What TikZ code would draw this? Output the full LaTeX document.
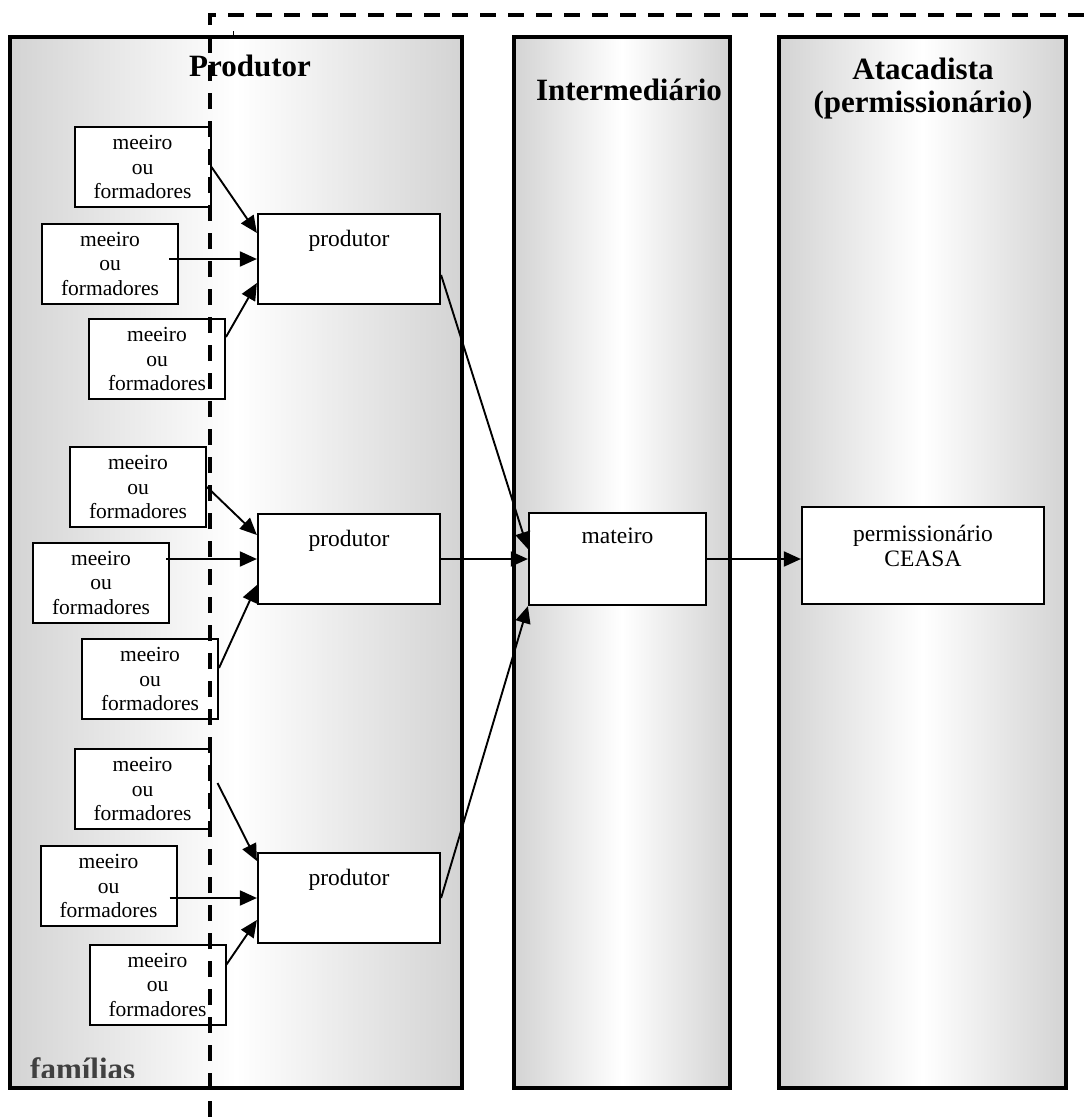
\documentclass[tikz,border=0pt]{standalone}
\usepackage{fontspec}
\setmainfont{Liberation Serif}
\usetikzlibrary{arrows.meta}
\definecolor{colgray}{gray}{0.74}
\definecolor{famgray}{gray}{0.25}
\pgfdeclarehorizontalshading{colband}{100bp}{color(0bp)=(colgray); color(12bp)=(colgray); color(50bp)=(white); color(88bp)=(colgray); color(100bp)=(colgray)}

\begin{document}
\begin{tikzpicture}[x=1pt,y=-1pt,
  column/.style={draw=black,line width=4pt,shading=colband},
  small/.style={draw,fill=white,line width=2pt,minimum width=136pt,minimum height=80pt,
    inner sep=0pt,align=center,font=\fontsize{21.5}{24.5}\selectfont},
  bigbox/.style={draw,fill=white,line width=2.2pt,inner sep=0pt},
  boxtext/.style={inner sep=0pt,align=center,font=\fontsize{23.5}{25}\selectfont},
  head/.style={inner sep=0pt,align=center,font=\fontsize{31}{33}\selectfont\bfseries},
  flow/.style={line width=1.9pt,-{Triangle[length=17pt,width=15pt]}},
  boundary/.style={line width=4pt,dash pattern=on 16pt off 12pt}]

\useasboundingbox (0,0) rectangle (1087,1117);

% the three stages of the chain
\path[column] (10,37) rectangle (462,1088);
\path[column] (514,37) rectangle (730,1088);
\path[column] (779,37) rectangle (1066,1088);

\node[head,anchor=base] (hProd) at (250,76) {Produtor};
\node[head,anchor=base] (hInt) at (629,100) {Intermediário};
\node[head,anchor=north] (hAtac) at (923,58) {Atacadista\\(permissionário)};

\begin{scope}
  \clip (10,37) rectangle (462,1077);
  \node[head,anchor=base west,text=famgray] (fam) at (30,1079) {famílias};
\end{scope}

% producers
\node[bigbox,minimum width=182pt,minimum height=90pt] (P1) at (349,259) {};
\node[bigbox,minimum width=182pt,minimum height=90pt] (P2) at (349,559) {};
\node[bigbox,minimum width=182pt,minimum height=90pt] (P3) at (349,898) {};
\node[boxtext,anchor=base] (P1t) at ([yshift=-34pt]P1.north) {produtor};
\node[boxtext,anchor=base] (P2t) at ([yshift=-34pt]P2.north) {produtor};
\node[boxtext,anchor=base] (P3t) at ([yshift=-34pt]P3.north) {produtor};

% intermediary and wholesaler
\node[bigbox,minimum width=177pt,minimum height=92pt] (M) at (617.5,559) {};
\node[boxtext,anchor=base] (Mt) at ([yshift=-32pt]M.north) {mateiro};
\node[bigbox,minimum width=242pt,minimum height=97pt] (W) at (923,555.5) {};
\node[boxtext,anchor=north] (Wt) at ([yshift=-19pt]W.north) {permissionário\\CEASA};

% sharecroppers / labour of each producer
\node[small] (A1) at (142.5,167) {meeiro\\ou\\formadores};
\node[small] (A2) at (110,263.5) {meeiro\\ou\\formadores};
\node[small] (A3) at (157,359) {meeiro\\ou\\formadores};
\node[small] (B1) at (138,487) {meeiro\\ou\\formadores};
\node[small] (B2) at (101,582.5) {meeiro\\ou\\formadores};
\node[small] (B3) at (150,679) {meeiro\\ou\\formadores};
\node[small] (C1) at (142.5,789) {meeiro\\ou\\formadores};
\node[small] (C2) at (108.5,886) {meeiro\\ou\\formadores};
\node[small] (C3) at (157.5,984.5) {meeiro\\ou\\formadores};

% flows into the producers
\draw[flow] (A1.east) -- ([yshift=26pt]P1.west);
\draw[flow] ([xshift=-10pt]A2.east |- P1.west) -- (P1.west);
\draw[flow] ([yshift=22pt]A3.east) -- ([yshift=-24pt]P1.west);

\draw[flow] (B1.east) -- ([yshift=24pt]P2.west);
\draw[flow] ([xshift=-4pt]B2.east |- P2.west) -- (P2.west);
\draw[flow] ([yshift=11pt]B3.east) -- ([yshift=-26pt]P2.west);

\draw[flow] ([xshift=6pt,yshift=6pt]C1.east) -- ([yshift=37pt]P3.west);
\draw[flow] ([xshift=-8pt]C2.east |- P3.west) -- (P3.west);
\draw[flow] ([yshift=20pt]C3.east) -- ([yshift=-22pt]P3.west);

% flows along the chain
\draw[flow] ([yshift=-16pt]P1.east) -- ([yshift=10pt]M.west);
\draw[flow] (P2.east) -- (M.west);
\draw[flow] (P3.east) -- (M.south west);
\draw[flow] (M.east) -- (M.east -| W.west);

% family boundary
\draw[boundary] (210,1117) -- (210,15) -- (1087,15);
\draw[line width=1pt] (233,31) -- (233,35);

\end{tikzpicture}
\end{document}
